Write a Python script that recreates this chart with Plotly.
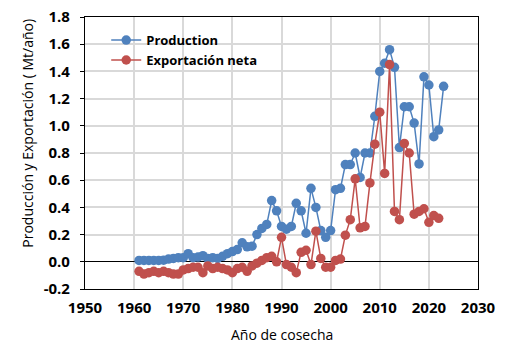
import plotly.graph_objects as go

years_prod = list(range(1961, 2024))
production = [0.01, 0.01, 0.01, 0.01, 0.01, 0.012, 0.02, 0.025, 0.03, 0.03,
              0.06, 0.03, 0.035, 0.045, 0.025, 0.03, 0.025, 0.04, 0.06, 0.075,
              0.09, 0.14, 0.11, 0.115, 0.20, 0.245, 0.275, 0.45, 0.375, 0.26,
              0.24, 0.26, 0.43, 0.375, 0.21, 0.54, 0.40, 0.23, 0.18, 0.23,
              0.53, 0.54, 0.715, 0.715, 0.80, 0.62, 0.80, 0.80, 1.07, 1.40,
              1.46, 1.56, 1.43, 0.84, 1.14, 1.14, 1.02, 0.72, 1.36, 1.30,
              0.92, 0.97, 1.29]

years_exp = list(range(1961, 2023))
exportacion = [-0.07, -0.09, -0.08, -0.07, -0.08, -0.07, -0.08, -0.09, -0.09, -0.06,
               -0.05, -0.04, -0.04, -0.08, -0.03, -0.05, -0.04, -0.05, -0.06, -0.08,
               -0.05, -0.04, -0.07, -0.03, -0.01, 0.01, 0.03, 0.04, 0.00, 0.18,
               -0.02, -0.04, -0.08, 0.07, 0.085, -0.02, 0.225, 0.025, -0.04, -0.04,
               0.01, 0.02, 0.196, 0.31, 0.61, 0.25, 0.26, 0.58, 0.865, 1.10,
               0.65, 1.45, 0.37, 0.31, 0.87, 0.80, 0.35, 0.37, 0.39, 0.29,
               0.34, 0.32]

x_ticks = [1950, 1960, 1970, 1980, 1990, 2000, 2010, 2020, 2030]
y_ticks = [-0.2, 0.0, 0.2, 0.4, 0.6, 0.8, 1.0, 1.2, 1.4, 1.6, 1.8]

x_title = "Año de cosecha"
y_title = "Producción y Exportación ( Mt/año)"

BLUE = "#4F81BD"
RED = "#C0504D"
FONT = "Open Sans"

fig = go.Figure()
fig.add_trace(go.Scatter(x=years_prod, y=production, mode="lines+markers",
                         name="Production",
                         line=dict(color=BLUE, width=1.5),
                         marker=dict(color=BLUE, size=9.5)))
fig.add_trace(go.Scatter(x=years_exp, y=exportacion, mode="lines+markers",
                         name="Exportación neta",
                         line=dict(color=RED, width=1.5),
                         marker=dict(color=RED, size=9.5)))

tickfont = dict(family=FONT, size=15, color="black", weight="bold")

fig.update_layout(
    width=512, height=362,
    margin=dict(l=85, r=34, t=17, b=73, autoexpand=False),
    paper_bgcolor="white", plot_bgcolor="white",
    font=dict(family=FONT, color="black"),
    showlegend=True,
    legend=dict(x=0.054, y=0.97, xanchor="left", yanchor="top",
                bgcolor="rgba(0,0,0,0)",
                font=dict(family=FONT, size=13, color="black", weight="bold"),
                tracegroupgap=0, itemwidth=30),
    xaxis=dict(range=[1950, 2030], tickvals=x_ticks, ticktext=[str(v) for v in x_ticks],
               showgrid=True, gridcolor="#D9D9D9", gridwidth=1.5,
               showline=True, linecolor="black", linewidth=1.2, mirror=True,
               ticks="", zeroline=False, automargin=False,
               ticklabelstandoff=5, tickfont=tickfont),
    yaxis=dict(range=[-0.2, 1.8], tickvals=y_ticks, ticktext=[f"{v:.1f}" for v in y_ticks],
               showgrid=True, gridcolor="#D9D9D9", gridwidth=1.5,
               showline=True, linecolor="black", linewidth=1.2, mirror=True,
               ticks="outside", ticklen=4, tickcolor="black", automargin=False,
               zeroline=True, zerolinecolor="black", zerolinewidth=1.2,
               ticklabelstandoff=7, tickfont=tickfont),
    xaxis2=dict(range=[1950, 2030], overlaying="x", anchor="free", position=0.1,
                tickvals=x_ticks[1:-1], showticklabels=False, showgrid=False,
                zeroline=False, showline=False, ticks="outside", ticklen=4,
                tickcolor="black", tickwidth=1.2, automargin=False),
    xaxis3=dict(range=[1950, 2030], overlaying="x", anchor="free", position=0.1,
                tickvals=x_ticks[1:-1], showticklabels=False, showgrid=False,
                zeroline=False, showline=False, ticks="inside", ticklen=4,
                tickcolor="black", tickwidth=1.2, automargin=False),
    annotations=[
        dict(text=x_title, xref="paper", yref="paper", x=0.5, y=-0.168,
             xanchor="center", yanchor="middle", showarrow=False,
             font=dict(family=FONT, size=14, color="black")),
        dict(text=y_title, xref="paper", yref="paper", x=-0.145, y=0.571,
             xanchor="center", yanchor="middle", showarrow=False, textangle=-90,
             font=dict(family=FONT, size=14, color="black")),
    ],
)

fig.write_html("out.html", config={"displayModeBar": False},
               post_script="document.body.style.margin='0';")
